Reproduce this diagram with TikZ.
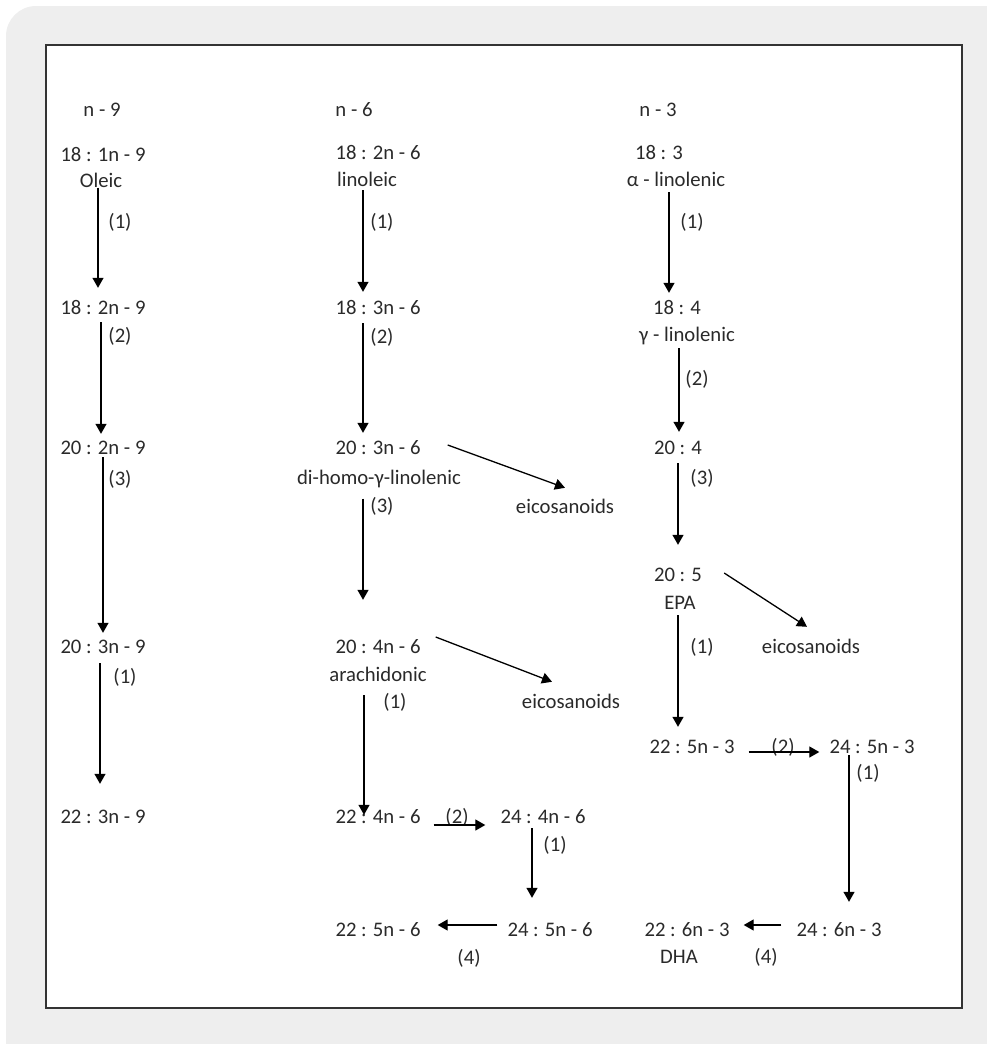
\documentclass[tikz,border=0pt]{standalone}
\usepackage{fontspec}
\setmainfont{Carlito}
\usetikzlibrary{arrows.meta}
\definecolor{panel}{HTML}{EEEEEE}
\definecolor{ink}{HTML}{2A2A2A}
\definecolor{frame}{HTML}{333333}

\begin{document}
\begin{tikzpicture}[x=1pt,y=-1pt,
  lbl/.style={inner sep=0pt, text height=13pt, text depth=0pt,
              font=\fontsize{20.7}{24}\selectfont, text=ink},
  arr/.style={-{Triangle[length=10pt,width=11pt]}, line width=1.3pt, black},
]
\useasboundingbox (0,0) rectangle (987,1044);
% grey panel and framed sheet
\begin{scope}
  \clip (0,0) rectangle (987,1044);
  \fill[panel, rounded corners=30pt] (6,6) rectangle (1030,1090);
\end{scope}
\draw[frame, fill=white, line width=1.5pt] (46,45) rectangle (962,1008);

% ---------- n - 9 series ----------
\node[lbl] (h9)    at (102,110) {n - 9};
\node[lbl] (a1)    at (103,155) {18 : 1n - 9};
\node[lbl] (oleic) at (101,181) {Oleic};
\node[lbl] (a2)    at (103,308) {18 : 2n - 9};
\node[lbl] (a3)    at (103,448) {20 : 2n - 9};
\node[lbl] (a4)    at (103,647) {20 : 3n - 9};
\node[lbl] (a5)    at (103,817) {22 : 3n - 9};
\node[lbl] (la1) at (120,222) {(1)};
\node[lbl] (la2) at (120,336) {(2)};
\node[lbl] (la3) at (120,479) {(3)};
\node[lbl] (la4) at (125,677) {(1)};

\draw[arr, shorten >=13.5pt] (oleic.south -| 98,0) -- (a2.north -| 98,0);
\draw[arr, shorten <=7.5pt, shorten >=7.5pt] (a2.south -| 101,0) -- (a3.north -| 101,0);
\draw[arr, shorten <=2.5pt, shorten >=7.5pt] (a3.south -| 103,0) -- (a4.north -| 103,0);
\draw[arr, shorten <=9.5pt, shorten >=26.5pt] (a4.south -| 100,0) -- (a5.north -| 100,0);

% ---------- n - 6 series ----------
\node[lbl] (h6)       at (354,110) {n - 6};
\node[lbl] (b1)       at (378,153) {18 : 2n - 6};
\node[lbl] (linoleic) at (367,180) {linoleic};
\node[lbl] (b2)       at (378,308) {18 : 3n - 6};
\node[lbl] (b3)       at (378,448) {20 : 3n - 6};
\node[lbl] (dgla)     at (379,478) {di-homo-γ-linolenic};
\node[lbl] (eico1)    at (565,507) {eicosanoids};
\node[lbl] (b4)       at (378,647) {20 : 4n - 6};
\node[lbl] (arach)    at (378,675) {arachidonic};
\node[lbl] (eico2)    at (571,702) {eicosanoids};
\node[lbl] (b5)       at (378,817) {22 : 4n - 6};
\node[lbl] (b6)       at (543,817) {24 : 4n - 6};
\node[lbl] (b7)       at (550,930) {24 : 5n - 6};
\node[lbl] (b8)       at (378,930) {22 : 5n - 6};
\node[lbl] (lb1) at (382,222) {(1)};
\node[lbl] (lb2) at (382,337) {(2)};
\node[lbl] (lb3) at (382,506) {(3)};
\node[lbl] (lb4) at (395,702) {(1)};
\node[lbl] (lb5) at (457,817) {(2)};
\node[lbl] (lb6) at (555,845) {(1)};
\node[lbl] (lb7) at (469,958) {(4)};

\draw[arr, shorten <=3.5pt, shorten >=9.5pt] (linoleic.south -| 363,0) -- (b2.north -| 363,0);
\draw[arr, shorten <=8.5pt, shorten >=8.5pt] (b2.south -| 363,0) -- (b3.north -| 363,0);
\draw[arr, shorten <=14pt, shorten >=40.5pt] (dgla.south -| 363,0) -- (b4.north -| 363,0);
\draw[arr, shorten <=13.5pt, shorten >=-4.5pt] (arach.south -| 364,0) -- (b5.north -| 364,0);
\draw[arr, shorten <=13pt, shorten >=15pt] (b5.east |- 0,825) -- (b6.west |- 0,825);
\draw[arr, shorten <=4.5pt, shorten >=25.5pt] (b6.south -| 532,0) -- (b7.north -| 532,0);
\draw[arr, shorten <=10pt, shorten >=17pt] (b7.west |- 0,925) -- (b8.east |- 0,925);
\draw[arr] ([shift={(27,-3)}]b3.east) -- ([shift={(0,-12.5)}]eico1.north);
\draw[arr] ([shift={(15,-10)}]b4.east) -- ([shift={(-19,-13.5)}]eico2.north);

% ---------- n - 3 series ----------
\node[lbl] (h3)    at (658,110) {n - 3};
\node[lbl] (c1)    at (659,153) {18 : 3};
\node[lbl] (alpha) at (676,180) {α - linolenic};
\node[lbl] (c2)    at (677,308) {18 : 4};
\node[lbl] (gamma) at (687,335) {γ - linolenic};
\node[lbl] (c3)    at (678,448) {20 : 4};
\node[lbl] (c4)    at (678,575) {20 : 5};
\node[lbl] (epa)   at (680,603) {EPA};
\node[lbl] (eico3) at (811,647) {eicosanoids};
\node[lbl] (c5)    at (692,747) {22 : 5n - 3};
\node[lbl] (c6)    at (872,747) {24 : 5n - 3};
\node[lbl] (c7)    at (839,930) {24 : 6n - 3};
\node[lbl] (c8)    at (687,930) {22 : 6n - 3};
\node[lbl] (dha)   at (679,957) {DHA};
\node[lbl] (lc1) at (692,222) {(1)};
\node[lbl] (lc2) at (697,379) {(2)};
\node[lbl] (lc3) at (702,478) {(3)};
\node[lbl] (lc4) at (702,647) {(1)};
\node[lbl] (lc5) at (783,747) {(2)};
\node[lbl] (lc6) at (868,773) {(1)};
\node[lbl] (lc7) at (766,957) {(4)};

\draw[arr, shorten <=5.5pt, shorten >=8.5pt] (alpha.south -| 669,0) -- (c2.north -| 669,0);
\draw[arr, shorten <=6.5pt, shorten >=9.5pt] (gamma.south -| 679,0) -- (c3.north -| 679,0);
\draw[arr, shorten <=8.5pt, shorten >=23.5pt] (c3.south -| 678,0) -- (c4.north -| 678,0);
\draw[arr, shorten <=5.5pt, shorten >=13.5pt] (epa.south -| 678,0) -- (c5.north -| 678,0);
\draw[arr, shorten <=14pt, shorten >=10pt] (c5.east |- 0,752) -- (c6.west |- 0,752);
\draw[arr, shorten <=1.5pt, shorten >=21.5pt] (c6.south -| 849,0) -- (c7.north -| 849,0);
\draw[arr, shorten <=15pt, shorten >=14pt] (c7.west |- 0,925) -- (c8.east |- 0,925);
\draw[arr] ([shift={(22,-2)}]c4.east) -- ([shift={(-4,-13.5)}]eico3.north);
\end{tikzpicture}
\end{document}
